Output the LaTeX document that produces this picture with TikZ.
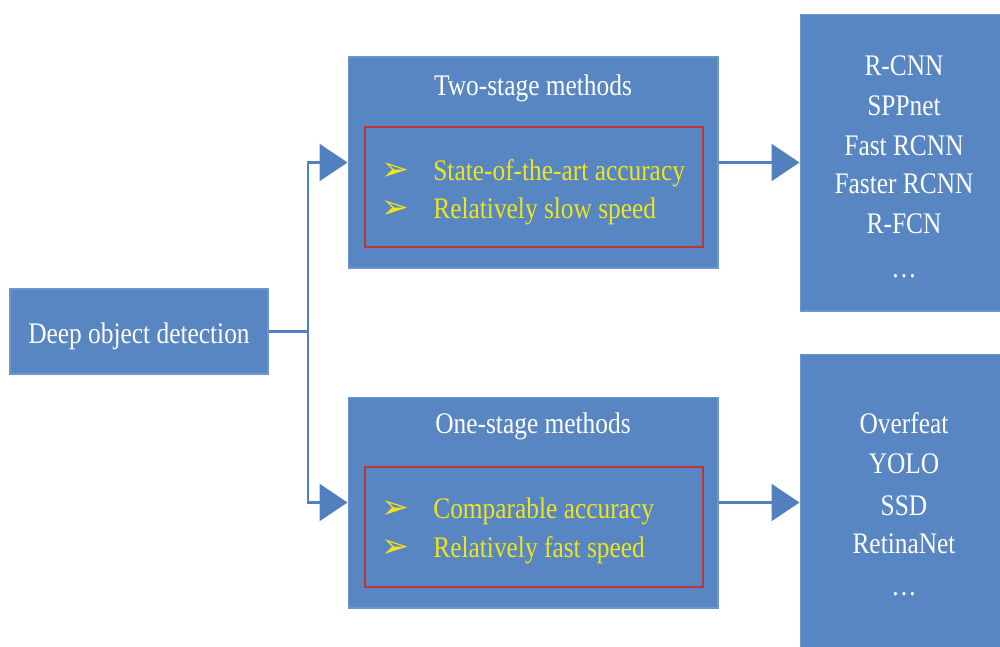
\documentclass[tikz,border=0pt]{standalone}
\usepackage{fontspec}
\setmainfont[FakeStretch=0.85]{Liberation Serif}
\newfontfamily\symfont{DejaVu Sans}
\usetikzlibrary{arrows.meta}
\definecolor{boxblue}{RGB}{88,134,194}
\definecolor{edgeblue}{RGB}{108,150,204}
\definecolor{lineblue}{RGB}{82,128,190}
\definecolor{ptyellow}{RGB}{240,228,30}
\definecolor{ptred}{RGB}{192,52,52}
\begin{document}
\begin{tikzpicture}[x=0.02cm,y=-0.02cm,
  box/.style={rectangle, fill=boxblue, draw=edgeblue, line width=0.6pt, inner sep=0pt},
  redbox/.style={rectangle, draw=ptred, line width=1pt, inner sep=0pt},
  txt/.style={text=white, font=\fontsize{17}{20}\selectfont, inner sep=0pt},
  ytxt/.style={text=ptyellow, font=\fontsize{17}{20}\selectfont, inner sep=0pt, anchor=base west},
  bul/.style={text=ptyellow, font=\symfont\bfseries\fontsize{19}{22}\selectfont, inner sep=0pt, anchor=base west},
  conn/.style={draw=lineblue, line width=1.3pt, -{Triangle[width=0.74cm,length=0.56cm]}}]
\useasboundingbox (0,0) rectangle (1000,646);
\clip (0,0) rectangle (1000,646);
% left box
\node[box, minimum width=5.16cm, minimum height=1.7cm] (det) at (139,331.5) {};
\node[txt, anchor=base] (dett) at (139,343) {Deep object detection};
% two-stage
\node[box, minimum width=7.4cm, minimum height=4.22cm] (two) at (533,162.5) {};
\node[redbox, minimum width=6.76cm, minimum height=2.4cm] (red1) at (534,187) {};
\node[txt, anchor=base] (twot) at (533,95) {Two-stage methods};
\node[bul] (b1) at (381,180) {➢};
\node[ytxt] (y1) at (433,180) {State-of-the-art accuracy};
\node[bul] (b2) at (381,218) {➢};
\node[ytxt] (y2) at (433,218) {Relatively slow speed};
% one-stage
\node[box, minimum width=7.4cm, minimum height=4.22cm] (one) at (533,502.5) {};
\node[redbox, minimum width=6.76cm, minimum height=2.4cm] (red2) at (534,527) {};
\node[txt, anchor=base] (onet) at (533,433) {One-stage methods};
\node[bul] (b3) at (381,518) {➢};
\node[ytxt] (y3) at (433,518) {Comparable accuracy};
\node[bul] (b4) at (381,557) {➢};
\node[ytxt] (y4) at (433,557) {Relatively fast speed};
% right boxes
\node[box, minimum width=4.2cm, minimum height=5.94cm] (r1) at (905,162.5) {};
\node[box, minimum width=4.2cm, minimum height=6.12cm] (r2) at (905,507) {};
\foreach \t/\y [count=\i] in {R-CNN/75, SPPnet/115, Fast RCNN/155, Faster RCNN/193, R-FCN/233, \dots/277}
  \node[txt, anchor=base] (ra\i) at (904,\y) {\t};
\foreach \t/\y [count=\i] in {Overfeat/433, YOLO/473, SSD/515, RetinaNet/553, \dots/595}
  \node[txt, anchor=base] (rb\i) at (904,\y) {\t};
% connectors
\coordinate (split) at (308,331.5);
\draw[conn] (det.east) -- (split) |- (two.west);
\draw[conn] (split) |- (one.west);
\draw[conn] (two.east) -- (r1.west);
\draw[conn] (one.east) -- (one.east -| r2.west);
\end{tikzpicture}
\end{document}
